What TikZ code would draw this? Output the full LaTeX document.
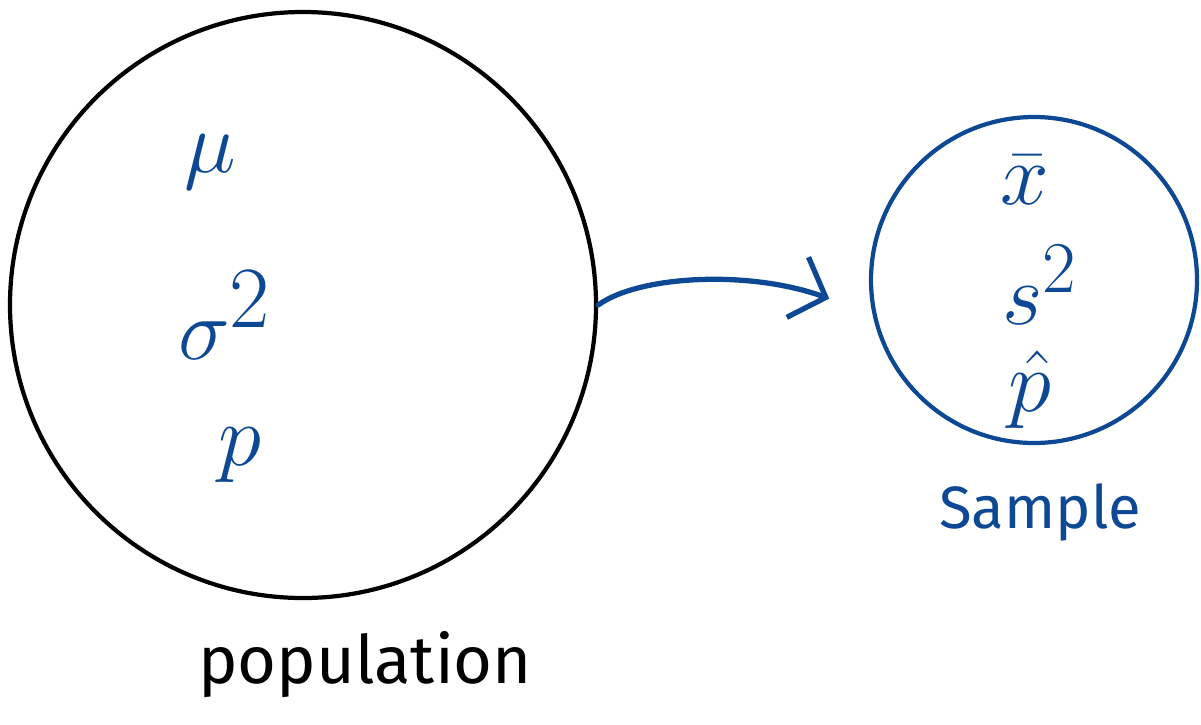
\documentclass[tikz,border=0pt]{standalone}
\usepackage{fontspec}
\setmainfont{Fira Sans}
\usepackage{xcolor}
\usetikzlibrary{arrows.meta}

\definecolor{penblue}{RGB}{12,72,148}

\begin{document}
\begin{tikzpicture}[
    font=\fontsize{19}{23}\selectfont,
    symb/.style={text=penblue,inner sep=0pt,font=\fontsize{36}{40}\selectfont},
    smallsymb/.style={text=penblue,inner sep=0pt,font=\fontsize{30}{34}\selectfont},
  ]
    \useasboundingbox (0,0) rectangle (12.01,-7.24);

    % population and sample
    \node[circle,draw=black,line width=1.2pt,inner sep=0pt,
          minimum size=5.86cm] (pop) at (3.03,-3.05) {};
    \node[circle,draw=penblue,line width=1.2pt,inner sep=0pt,
          minimum size=3.26cm] (samp) at (10.34,-2.80) {};

    \node[symb] (mu) at (2.10,-1.62) {$\mu$};
    \node[symb] (sigma) at (2.25,-3.15) {$\sigma^2$};
    \node[symb] (p) at (2.40,-4.55) {$p$};

    \node[smallsymb] (xbar) at (10.25,-1.80) {$\bar{x}$};
    \node[smallsymb] (ssq) at (10.40,-2.85) {$s^2$};
    \node[smallsymb] (phat) at (10.30,-3.90) {$\hat{p}$};

    \node (poplabel) at (3.65,-6.65) {population};
    \node[text=penblue,font=\fontsize{17}{21}\selectfont] (samplabel)
        at (10.40,-5.12) {Sample};

    % arrow
    \draw[penblue,line width=1.5pt,line cap=round,
          -{Straight Barb[length=3mm,width=6.4mm,line width=1.5pt]},
          shorten >=4.6mm]
        (pop.east) .. controls (6.40,-2.75) and (7.50,-2.70) .. (samp.192);
\end{tikzpicture}
\end{document}
